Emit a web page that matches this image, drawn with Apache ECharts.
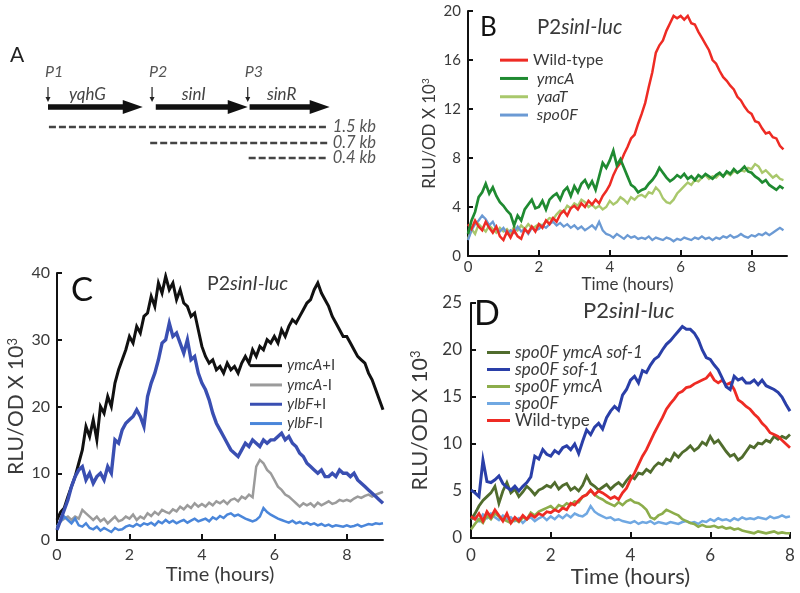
<!DOCTYPE html>
<html><head><meta charset="utf-8">
<script src="https://cdn.jsdelivr.net/npm/echarts@6/dist/echarts.min.js"></script>
<style>html,body{margin:0;padding:0;background:#fff}#c{width:800px;height:593px}</style>
</head><body><div id="c"></div>
<script>
// ---------- DATA ----------
const STEP_HOURS = 0.1; // sampling step of every series (hours)

// Panel A (schematic, positions in kb)
const genes = [
  {name: 'yqhG', start: 0.0, end: 0.51},
  {name: 'sinI', start: 0.58, end: 1.075},
  {name: 'sinR', start: 1.085, end: 1.516}
];
const promoters = [
  {name: 'P1', pos: 0.0},
  {name: 'P2', pos: 0.56},
  {name: 'P3', pos: 1.075}
];
const transcripts = [
  {label: '1.5 kb', start: 0.005, end: 1.505},
  {label: '0.7 kb', start: 0.55, end: 1.505},
  {label: '0.4 kb', start: 1.08, end: 1.505}
];

// Panel B
const xTicksB = [0, 2, 4, 6, 8];
const yTicksB = [0, 4, 8, 12, 16, 20];
const bWildType = [2.6,2.2,2.9,2.4,2.1,2.8,2.3,1.9,2.4,1.6, 1.3,2.0,1.5,2.1,1.6,1.4,2.2,1.9,2.4,2.0,
  2.6,2.3,2.9,2.6,3.1,2.8,3.4,3.7,3.3,3.9, 4.1,3.8,4.3,4.0,4.5,4.2,4.6,4.3,4.9,5.3,
  5.8,6.6,7.2,7.6,8.3,8.9,9.6,9.9,10.8,11.6, 12.5,13.8,15.0,16.6,17.2,17.6,18.4,19.0,19.6,19.4,
  19.6,19.3,19.6,19.0,18.9,18.3,17.8,17.3,16.8,16.0, 15.7,15.1,14.6,14.3,13.9,13.6,13.0,12.7,12.2,11.8,
  11.6,11.0,10.9,10.4,10.0,10.1,9.7,9.6,9.0,8.7];
const bYmcA = [1.8,2.9,3.6,4.8,5.2,5.9,5.1,5.6,4.9,4.4, 4.1,3.7,3.4,2.5,3.3,2.9,3.8,4.2,4.6,3.9,
  4.0,4.5,3.8,4.6,4.9,5.1,4.6,5.3,5.6,4.9, 5.7,5.2,5.9,6.2,5.6,6.1,5.4,6.5,7.6,7.2,
  7.8,8.6,7.4,7.9,7.2,6.5,5.8,5.6,5.2,5.4, 5.5,5.9,6.2,6.6,7.2,6.8,6.4,6.1,6.3,6.6,
  6.4,6.7,6.3,6.5,6.2,6.6,6.4,6.7,6.5,6.3, 6.6,6.8,6.5,6.9,6.7,7.1,6.8,7.0,7.3,6.9,
  6.8,6.5,6.3,6.0,6.2,5.8,5.6,5.4,5.7,5.5];
const bYaaT = [1.4,2.2,1.8,2.6,2.3,2.0,2.5,2.2,1.9,2.3, 2.0,2.2,1.8,2.4,2.1,2.5,2.2,2.6,2.3,2.4,
  2.6,2.5,2.8,3.1,3.0,3.4,3.7,3.6,4.1,3.9, 4.3,4.1,4.6,4.4,4.0,4.2,3.9,4.1,3.8,4.0,
  4.5,4.2,4.4,4.8,4.6,4.3,4.8,4.6,4.9,5.0, 4.8,5.2,5.1,5.6,5.3,4.7,4.4,4.3,4.6,5.1,
  5.4,5.7,6.0,5.8,6.2,6.1,6.4,6.6,6.3,6.5, 6.4,6.7,6.5,6.8,6.6,6.9,6.8,7.0,6.9,7.2,
  7.1,7.5,7.3,6.8,7.0,6.7,6.4,6.6,6.3,6.2];
const bSpo0F = [1.3,2.1,2.6,2.9,3.3,3.0,2.5,2.8,2.2,2.0, 2.3,1.8,2.1,1.9,2.4,2.0,2.2,1.8,2.3,2.1,
  2.2,2.5,2.3,2.6,2.8,2.5,2.7,2.4,2.6,2.3, 2.5,2.2,2.4,2.1,2.3,2.5,2.2,2.8,2.1,1.8,
  1.7,1.5,1.8,1.6,1.4,1.7,1.5,1.6,1.4,1.5, 1.4,1.6,1.3,1.5,1.4,1.3,1.5,1.4,1.2,1.4,
  1.3,1.5,1.4,1.3,1.5,1.4,1.6,1.4,1.5,1.3, 1.5,1.4,1.6,1.5,1.7,1.5,1.6,1.8,1.6,1.5,
  1.7,1.6,1.8,1.7,1.9,1.7,1.9,2.1,2.3,2.1];

// Panel C
const xTicksC = [0, 2, 4, 6, 8];
const yTicksC = [0, 10, 20, 30, 40];
const cYmcAplus = [3.0,4.2,4.8,6.5,8.0,9.5,11.5,13.5,17.0,15.5, 18.0,15.0,20.0,19.0,21.5,20.0,23.5,25.5,27.0,28.5,
  30.5,29.5,32.0,31.0,33.5,34.0,36.5,35.0,38.5,37.0, 39.5,37.5,38.5,36.0,37.5,35.5,35.0,33.5,34.0,31.5,
  29.0,27.5,26.5,27.0,25.5,26.0,25.0,26.5,25.5,26.0, 25.0,26.5,27.5,26.5,28.5,27.5,29.0,28.5,30.0,29.5,
  30.5,29.5,31.5,30.5,32.0,33.0,32.5,33.5,34.5,35.5, 36.0,37.5,38.5,37.0,36.0,35.0,33.5,32.5,31.5,30.5,
  30.5,29.5,28.5,27.5,27.0,26.5,25.0,24.0,22.5,21.0, 19.5];
const cYmcAminus = [2.0,2.8,3.2,3.5,3.0,3.5,3.2,4.5,4.0,3.5, 3.0,3.5,2.8,3.2,2.5,3.0,3.5,2.8,3.0,3.5,
  3.2,3.8,3.0,3.5,3.2,4.0,3.6,4.2,3.8,4.5, 4.2,4.0,4.6,4.3,5.0,4.6,5.2,4.8,5.5,5.0,
  5.4,5.0,5.6,5.2,5.8,5.5,5.9,5.4,6.0,6.2, 5.8,6.5,6.2,6.8,6.4,11.0,12.0,11.5,10.5,10.0,
  9.0,8.0,7.5,6.8,6.5,6.0,5.5,5.0,5.5,5.2, 5.5,5.0,5.6,5.2,5.5,5.8,5.4,5.6,6.0,5.8,
  6.0,5.8,6.2,6.5,6.3,6.6,6.8,6.5,6.8,7.0, 7.2];
const cYlbFplus = [1.5,3.0,4.5,6.0,8.0,9.5,10.5,11.0,9.0,10.0, 8.5,9.5,10.0,9.0,11.0,10.0,15.0,14.5,16.5,17.5,
  18.0,18.5,19.5,18.5,17.0,21.5,23.5,25.0,27.0,29.5, 30.0,32.5,30.5,31.0,29.5,28.0,30.0,27.0,27.5,25.0,
  23.5,22.5,21.0,19.0,17.5,16.5,15.5,14.5,13.5,13.0, 12.5,13.5,14.5,14.0,15.0,14.5,14.0,15.0,14.5,15.0,
  15.0,15.5,16.0,15.0,15.5,14.5,14.0,13.0,12.5,11.5, 11.0,10.5,10.0,10.5,9.5,9.5,10.0,9.5,10.5,10.0,
  10.0,9.5,10.0,9.0,8.5,8.0,7.5,7.0,6.5,6.0, 5.5];
const cYlbFminus = [2.0,2.8,3.5,3.0,2.5,3.2,2.2,2.0,2.5,1.8, 1.6,2.0,1.4,1.8,1.5,1.2,1.8,1.5,1.6,2.0,
  2.2,2.0,2.4,2.1,2.5,2.3,2.6,2.2,2.8,2.5, 3.0,2.6,2.9,2.5,2.8,3.0,2.6,2.9,3.2,2.8,
  3.0,3.2,2.8,3.4,3.1,3.6,3.3,3.8,4.0,3.6, 3.8,3.5,3.2,3.0,2.8,3.0,3.5,4.8,4.2,3.8,
  3.5,3.2,3.0,2.8,2.6,2.9,2.5,2.7,2.4,2.6, 2.3,2.5,2.2,2.4,2.1,2.3,2.0,2.2,2.1,2.0,
  2.2,2.0,2.1,2.3,2.0,2.2,2.4,2.3,2.5,2.4, 2.5];

// Panel D
const xTicksD = [0, 2, 4, 6, 8];
const yTicksD = [0, 5, 10, 15, 20, 25];
const dSpo0FymcAsof1 = [2.0,2.6,3.4,4.0,4.4,4.8,5.5,3.7,5.0,5.9, 4.8,5.2,4.4,4.9,5.5,5.1,4.6,5.1,5.3,5.6,
  5.4,5.9,5.2,5.6,5.8,5.1,5.4,5.0,5.6,6.6, 5.8,5.5,5.1,5.4,5.7,5.2,5.6,5.9,5.5,6.1,
  6.6,6.3,6.9,6.8,7.3,7.0,7.6,8.0,7.8,8.4, 8.2,9.0,8.6,9.1,9.4,9.8,9.3,9.6,10.2,9.9,
  10.8,10.1,10.4,9.8,9.2,8.7,8.9,8.3,8.6,9.2, 9.8,9.6,10.1,10.0,10.4,10.2,10.8,10.5,10.8,10.6, 11.0];
const dSpo0Fsof1 = [5.1,4.8,4.4,8.3,6.0,5.9,6.2,6.6,5.8,5.4, 5.1,5.5,5.0,5.5,5.9,6.5,8.7,8.4,9.4,8.9,
  8.7,9.3,9.0,9.6,9.8,9.4,10.0,9.0,10.3,11.5, 11.0,11.8,12.2,11.6,12.8,13.5,14.0,13.6,15.2,15.8,
  16.8,17.2,16.5,17.8,17.6,18.4,19.0,19.3,20.0,20.6, 21.0,21.5,22.0,22.5,22.2,22.2,21.8,21.1,20.0,19.2,
  19.0,18.4,17.9,17.0,16.1,15.8,17.2,16.8,17.0,16.5, 16.5,16.8,16.3,16.8,16.2,16.0,15.8,15.5,15.0,14.2, 13.5];
const dSpo0FymcA = [0.9,1.5,2.0,1.6,2.4,2.0,2.6,2.3,2.0,1.8, 1.6,2.0,1.7,2.2,2.0,2.7,2.4,2.8,3.0,3.2,
  3.4,3.0,3.5,3.3,3.7,3.5,3.9,3.8,4.4,4.6, 5.1,4.6,4.3,4.1,3.8,3.6,3.4,3.8,3.5,3.9,
  4.1,3.8,3.7,3.4,3.0,2.2,2.0,2.4,2.6,3.0, 2.8,2.6,2.4,2.0,1.8,1.6,1.5,1.2,1.4,1.2,
  1.2,1.3,1.1,1.2,1.0,1.1,0.9,1.0,0.8,0.7, 0.6,0.5,0.7,0.6,0.5,0.6,0.7,0.5,0.6,0.5, 0.5];
const dSpo0F = [2.0,2.3,1.8,2.5,2.1,2.6,2.2,1.9,2.4,2.0, 2.2,1.8,2.1,1.6,2.0,2.2,1.8,2.1,2.3,1.9,
  2.3,2.0,2.4,2.1,2.5,2.2,2.6,2.4,2.3,2.6, 3.4,2.8,2.5,2.3,2.1,2.2,1.9,2.0,1.8,1.7,
  1.6,1.8,1.5,1.7,1.6,1.8,1.5,1.7,1.6,1.5, 1.7,1.6,1.5,1.7,1.8,1.6,1.7,1.5,1.8,1.7,
  2.0,1.8,2.1,1.9,2.0,1.8,2.1,1.9,2.2,2.0, 2.1,2.0,2.2,2.1,2.0,2.3,2.1,2.2,2.4,2.2, 2.3];
const dWildType = [2.3,2.0,2.6,1.8,2.8,2.2,3.0,2.4,1.8,2.6, 1.6,2.2,1.8,2.4,2.0,2.5,2.2,2.6,2.4,2.8,
  2.7,3.0,2.8,3.2,3.0,3.7,3.5,4.0,4.4,4.6, 5.1,4.6,5.0,4.8,4.5,4.2,4.4,4.1,4.8,5.3,
  6.2,6.9,7.8,8.7,9.4,10.3,11.2,12.0,12.8,13.7, 14.3,14.8,15.4,15.6,16.0,16.1,16.4,16.6,16.8,17.0,
  17.5,16.8,16.5,16.8,16.3,16.5,15.8,14.7,14.4,14.0, 13.7,13.2,12.8,12.2,11.8,11.2,11.0,10.8,10.4,10.0, 9.6];

// ---------- CHART ----------
const FONT = 'Lato, "Open Sans", sans-serif';
const TXT = '#3a3a3a';
function toPairs(values) { return values.map((v, i) => [Math.round(i * STEP_HOURS * 100) / 100, v]); }

function axisPair(gi, xmax, xTicks, ymax, yTicks, o) {
  const x = {
    type: 'value', gridIndex: gi, min: 0, max: xmax,
    name: 'Time (hours)', nameLocation: 'middle', nameGap: o.xNameGap,
    nameTextStyle: {fontFamily: FONT, fontSize: o.xNameSize, color: TXT},
    axisLine: {show: true, lineStyle: {color: '#111', width: 2}},
    axisTick: {show: true, inside: true, length: 6, lineStyle: {width: 2, color: '#111'}, customValues: xTicks},
    axisLabel: {fontFamily: FONT, fontSize: o.tickSize, color: TXT, margin: o.xMargin, customValues: xTicks},
    splitLine: {show: false}
  };
  const y = {
    type: 'value', gridIndex: gi, min: 0, max: ymax,
    name: 'RLU/OD X 10{sup|3}', nameLocation: 'middle', nameGap: o.yNameGap,
    nameTextStyle: {fontFamily: FONT, fontSize: o.yNameSize, color: TXT,
      rich: {sup: {fontFamily: FONT, fontSize: Math.round(o.yNameSize * 0.6), color: TXT, verticalAlign: 'top', lineHeight: o.yNameSize}}},
    axisLine: {show: true, lineStyle: {color: '#111', width: 2}},
    axisTick: {show: true, inside: true, length: 5, lineStyle: {width: 2, color: '#111'}, customValues: yTicks},
    axisLabel: {fontFamily: FONT, fontSize: o.tickSize, color: TXT, margin: o.yMargin, customValues: yTicks},
    splitLine: {show: false}
  };
  return [x, y];
}

const [xB, yB] = axisPair(0, 9, xTicksB, 20, yTicksB, {xNameGap: 14, xNameSize: 17, tickSize: 15, xMargin: 4, yMargin: 7, yNameGap: 30, yNameSize: 17});
const [xC, yC] = axisPair(1, 9, xTicksC, 40, yTicksC, {xNameGap: 25, xNameSize: 20, tickSize: 16, xMargin: 7, yMargin: 7, yNameGap: 30, yNameSize: 21});
const [xD, yD] = axisPair(2, 8, xTicksD, 25, yTicksD, {xNameGap: 28, xNameSize: 22, tickSize: 17, xMargin: 9, yMargin: 9, yNameGap: 40, yNameSize: 21.5});
const xA = {type: 'value', gridIndex: 3, min: 0, max: 1.55, show: false};
const yA = {type: 'value', gridIndex: 3, min: 0, max: 110, inverse: true, show: false};

function line(name, values, color, width, xi) {
  return {type: 'line', name, data: toPairs(values), xAxisIndex: xi, yAxisIndex: xi,
    showSymbol: false, symbol: 'none', lineStyle: {color, width, join: 'miter'}, itemStyle: {color}, animation: false, z: 3};
}

const COL = {
  red: '#ee2b24', dgreen: '#1f8a31', ygreen: '#a9c86c', lblueB: '#6b9ad4',
  black: '#111111', gray: '#9b9b9b', blueC: '#3a4fb2', lblueC: '#4a86da',
  olive: '#506c2d', navy: '#2a3fa8', lolive: '#8cad4b', lblueD: '#70a8e2'
};

// Panel A layout rows (y units inside its hidden grid)
const ROW = {pLabel: 12, pArrowTop: 27, pArrowBot: 42, gene: 47, t: [67, 83, 98]};

const geneSeries = {
  type: 'custom', xAxisIndex: 3, yAxisIndex: 3, animation: false, silent: true,
  data: genes.map(g => [g.start, g.end, g.name]),
  renderItem(params, api) {
    const s = api.coord([api.value(0), ROW.gene]);
    const e = api.coord([api.value(1), ROW.gene]);
    const hl = 20, sh = 2.7, hw = 7;
    const y = s[1];
    const name = genes[params.dataIndex].name;
    return {type: 'group', children: [
      {type: 'polygon', shape: {points: [[s[0], y - sh], [e[0] - hl, y - sh], [e[0] - hl, y - hw], [e[0], y], [e[0] - hl, y + hw], [e[0] - hl, y + sh], [s[0], y + sh]]},
        style: {fill: '#111'}},
      {type: 'text', x: (s[0] + e[0] - hl) / 2 + 2, y: api.coord([0, ROW.gene - 12])[1],
        style: {text: name, fontFamily: FONT, fontSize: 17, fontStyle: 'italic', fill: '#444', align: 'center', verticalAlign: 'middle'}}
    ]};
  }
};
const promoterSeries = {
  type: 'custom', xAxisIndex: 3, yAxisIndex: 3, animation: false, silent: true,
  data: promoters.map(p => [p.pos, p.name]),
  renderItem(params, api) {
    const top = api.coord([api.value(0), ROW.pArrowTop]);
    const bot = api.coord([api.value(0), ROW.pArrowBot]);
    const lab = api.coord([api.value(0), ROW.pLabel]);
    return {type: 'group', children: [
      {type: 'line', shape: {x1: top[0], y1: top[1], x2: bot[0], y2: bot[1] - 3}, style: {stroke: '#222', lineWidth: 1.2}},
      {type: 'polygon', shape: {points: [[bot[0] - 2.5, bot[1] - 5], [bot[0] + 2.5, bot[1] - 5], [bot[0], bot[1]]]}, style: {fill: '#222'}},
      {type: 'text', x: lab[0] - 3, y: lab[1], style: {text: promoters[params.dataIndex].name, fontFamily: FONT, fontSize: 16, fontStyle: 'italic', fill: '#555', align: 'left', verticalAlign: 'middle'}}
    ]};
  }
};
const transcriptSeries = {
  type: 'custom', xAxisIndex: 3, yAxisIndex: 3, animation: false, silent: true,
  data: transcripts.map((t, i) => [t.start, t.end, i]),
  renderItem(params, api) {
    const i = api.value(2);
    const s = api.coord([api.value(0), ROW.t[i]]);
    const e = api.coord([api.value(1), ROW.t[i]]);
    return {type: 'group', children: [
      {type: 'line', shape: {x1: s[0], y1: s[1], x2: e[0], y2: e[1]}, style: {stroke: '#444', lineWidth: 2.6, lineDash: [7, 3]}},
      {type: 'text', x: e[0] + 5, y: e[1], style: {text: transcripts[i].label, fontFamily: FONT, fontSize: 16.5, fontStyle: 'italic', fill: '#555', align: 'left', verticalAlign: 'middle'}}
    ]};
  }
};

const italic = {fontStyle: 'italic'};
function legendBase(o) {
  return Object.assign({
    orient: 'vertical', icon: 'rect', itemHeight: 3, itemGap: 0, selectedMode: false,
    padding: 0,
    textStyle: {fontFamily: FONT, color: TXT}
  }, o);
}
function title(size) {
  return {text: '{n|P2}{i|sinI-luc}', rich: {n: {fontFamily: FONT, fontSize: size, fill: TXT}, i: {fontFamily: FONT, fontSize: size, fontStyle: 'italic', fill: TXT}}};
}

const option = {
  backgroundColor: '#fff',
  animation: false,
  grid: [
    {left: 468, top: 11, width: 319, height: 245},
    {left: 57, top: 273, width: 326, height: 267},
    {left: 471, top: 303, width: 319, height: 235},
    {left: 48, top: 60, width: 288, height: 110}
  ],
  xAxis: [xB, xC, xD, xA],
  yAxis: [yB, yC, yD, yA],
  legend: [
    legendBase({left: 500, top: 51, itemWidth: 28,
      textStyle: {fontFamily: FONT, color: TXT, fontSize: 16, lineHeight: 18.3},
      data: [
        {name: 'Wild-type', itemStyle: {color: COL.red}},
        {name: 'ymcA', itemStyle: {color: COL.dgreen}, textStyle: italic},
        {name: 'yaaT', itemStyle: {color: COL.ygreen}, textStyle: italic},
        {name: 'spo0F', itemStyle: {color: COL.lblueB}, textStyle: italic}
      ],
      formatter: n => n === 'Wild-type' ? n : ' ' + n
    }),
    legendBase({left: 250, top: 356, itemWidth: 32,
      textStyle: {fontFamily: FONT, color: TXT, fontSize: 15, lineHeight: 19.3,
        rich: {i: {fontFamily: FONT, fontSize: 15, fontStyle: 'italic', color: TXT}, n: {fontFamily: FONT, fontSize: 15, color: TXT}}},
      data: [
        {name: 'ymcA+I', itemStyle: {color: COL.black}},
        {name: 'ymcA-I', itemStyle: {color: COL.gray}},
        {name: 'ylbF+I', itemStyle: {color: COL.blueC}},
        {name: 'ylbF-I', itemStyle: {color: COL.lblueC}}
      ],
      formatter: n => '{i|' + n.slice(0, -2) + '}{n|' + n.slice(-2) + '}'
    }),
    legendBase({left: 487, top: 344, itemWidth: 23,
      textStyle: {fontFamily: FONT, color: TXT, fontSize: 17, lineHeight: 15.3},
      data: [
        {name: 'spo0F ymcA sof-1', itemStyle: {color: COL.olive}, textStyle: italic},
        {name: 'spo0F sof-1', itemStyle: {color: COL.navy}, textStyle: italic},
        {name: 'spo0F ymcA', itemStyle: {color: COL.lolive}, textStyle: italic},
        {name: 'spo0F ', itemStyle: {color: COL.lblueD}, textStyle: italic},
        {name: 'Wild-type ', itemStyle: {color: COL.red}}
      ]
    })
  ],
  graphic: [
    {type: 'text', left: 10, top: 45, style: {text: 'A', fontFamily: FONT, fontSize: 21, fill: '#222'}},
    {type: 'text', left: 480, top: 15, style: {text: 'B', fontFamily: FONT, fontSize: 26, fill: '#111'}},
    {type: 'text', left: 71, top: 274, style: {text: 'C', fontFamily: FONT, fontSize: 33, fill: '#111'}},
    {type: 'text', left: 474, top: 297, style: {text: 'D', fontFamily: FONT, fontSize: 34, fill: '#111'}},
    {type: 'text', left: 537, top: 17, style: title(20.5)},
    {type: 'text', left: 207, top: 274, style: title(19.5)},
    {type: 'text', left: 583, top: 300, style: title(22)}
  ],
  series: [
    line('yaaT', bYaaT, COL.ygreen, 2.4, 0),
    line('spo0F', bSpo0F, COL.lblueB, 2.3, 0),
    line('Wild-type', bWildType, COL.red, 2.5, 0),
    line('ymcA', bYmcA, COL.dgreen, 2.7, 0),

    line('ymcA-I', cYmcAminus, COL.gray, 2.5, 1),
    line('ylbF-I', cYlbFminus, COL.lblueC, 2.5, 1),
    line('ymcA+I', cYmcAplus, COL.black, 3, 1),
    line('ylbF+I', cYlbFplus, COL.blueC, 3.4, 1),

    line('spo0F ', dSpo0F, COL.lblueD, 2.5, 2),
    line('spo0F ymcA', dSpo0FymcA, COL.lolive, 2.6, 2),
    line('spo0F ymcA sof-1', dSpo0FymcAsof1, COL.olive, 2.8, 2),
    line('Wild-type ', dWildType, COL.red, 2.8, 2),
    line('spo0F sof-1', dSpo0Fsof1, COL.navy, 3, 2),

    geneSeries, promoterSeries, transcriptSeries
  ]
};

const chart = echarts.init(document.getElementById('c'), null, {renderer: 'canvas'});
chart.setOption(option);
</script>
</body></html>
